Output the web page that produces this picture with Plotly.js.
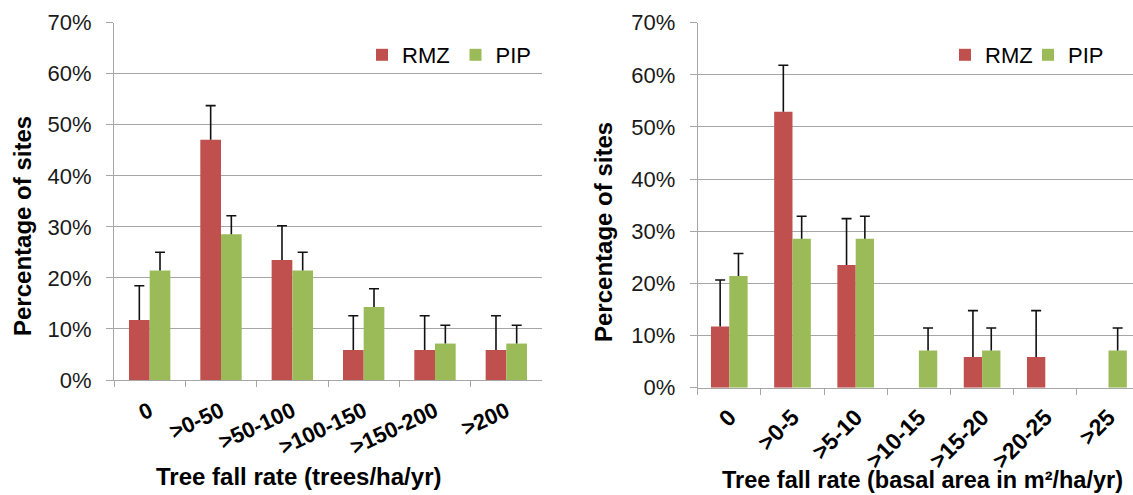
<!DOCTYPE html>
<html>
<head>
<meta charset="utf-8">
<script src="https://cdn.plot.ly/plotly-3.0.1.min.js"></script>
<style>
html, body { margin: 0; padding: 0; background: #ffffff; }
#chart { width: 1133px; height: 495px; }
</style>
</head>
<body>
<div id="chart"></div>
<script>
// ---- Data: tree fall rate (trees/ha/yr) ----
const treeCats = ['0', '>0-50', '>50-100', '>100-150', '>150-200', '>200'];
const treeRMZ = [11.76, 47.06, 23.53, 5.88, 5.88, 5.88];
const treeRMZErr = [6.7, 6.7, 6.7, 6.7, 6.7, 6.7];
const treePIP = [21.43, 28.57, 21.43, 14.29, 7.14, 7.14];
const treePIPErr = [3.6, 3.6, 3.6, 3.6, 3.6, 3.6];

// ---- Data: tree fall rate (basal area in m2/ha/yr) ----
const baCats = ['0', '>0-5', '>5-10', '>10-15', '>15-20', '>20-25', '>25'];
const baRMZ = [11.76, 52.94, 23.53, 0, 5.88, 5.88, 0];
const baRMZErr = [8.9, 8.9, 8.9, null, 8.9, 8.9, null];
const baPIP = [21.43, 28.57, 28.57, 7.14, 7.14, 0, 7.14];
const baPIPErr = [4.3, 4.3, 4.3, 4.3, 4.3, null, 4.3];

const seriesNames = ['RMZ', 'PIP'];
const yTickVals = [0, 10, 20, 30, 40, 50, 60, 70];
const yTickText = yTickVals.map(v => v + '%');

// ---- Styling ----
const RED = '#C0504D';
const GREEN = '#9BBB59';
const GRID = '#A6A6A6';
const FONT = 'Arial, "Liberation Sans", sans-serif';
const W = 1133, H = 495;

function errSpec(arr) {
  // plus-direction error bars only; no bar where the value is missing
  return {
    type: 'data', symmetric: false,
    array: arr.map(v => (v === null ? NaN : v)),
    arrayminus: arr.map(v => (v === null ? NaN : 0)),
    color: '#111111', thickness: 1.6, width: 5
  };
}

const traces = [
  { type: 'bar', name: seriesNames[0], x: treeCats, y: treeRMZ, xaxis: 'x', yaxis: 'y',
    marker: { color: RED }, error_y: errSpec(treeRMZErr), legend: 'legend' },
  { type: 'bar', name: seriesNames[1], x: treeCats, y: treePIP, xaxis: 'x', yaxis: 'y',
    marker: { color: GREEN }, error_y: errSpec(treePIPErr), legend: 'legend' },
  { type: 'bar', name: seriesNames[0], x: baCats, y: baRMZ, xaxis: 'x2', yaxis: 'y2',
    marker: { color: RED }, error_y: errSpec(baRMZErr), legend: 'legend2' },
  { type: 'bar', name: seriesNames[1], x: baCats, y: baPIP, xaxis: 'x2', yaxis: 'y2',
    marker: { color: GREEN }, error_y: errSpec(baPIPErr), legend: 'legend2' }
];

function xAxis(domain, range, angle, anchor, fsize, standoff) {
  return {
    type: 'category', domain: domain, range: range, anchor: anchor,
    showline: true, linecolor: GRID, linewidth: 1,
    ticks: 'outside', tickson: 'boundaries', ticklen: 6, tickcolor: GRID, tickwidth: 1,
    showgrid: false, zeroline: false, tickangle: angle,
    tickfont: { family: FONT, size: fsize, color: '#000', weight: 'bold' },
    ticklabelstandoff: standoff,
    fixedrange: true
  };
}
function yAxis(domain, anchor) {
  return {
    domain: domain, range: [0, 70], anchor: anchor,
    tickvals: yTickVals, ticktext: yTickText,
    showline: true, linecolor: GRID, linewidth: 1,
    ticks: 'outside', ticklen: 7, tickcolor: GRID, tickwidth: 1,
    showgrid: true, gridcolor: GRID, gridwidth: 1, zeroline: false,
    tickfont: { family: FONT, size: 22, color: '#1a1a1a' },
    ticklabelstandoff: 10,
    fixedrange: true
  };
}

const leftX = [114 / W, 542 / W];
const rightX = [697.7 / W, 1];
const rightRange = [-0.5, -0.5 + (W - 697.7) / 63.2];

const titleFont = { family: FONT, size: 24, color: '#000', weight: 'bold' };

const layout = {
  width: W, height: H,
  margin: { l: 0, r: 0, t: 0, b: 0 },
  paper_bgcolor: '#ffffff', plot_bgcolor: '#ffffff',
  font: { family: FONT, color: '#000' },
  barmode: 'group',
  bargap: 0.42,
  xaxis: xAxis(leftX, [-0.5, 5.5], -25, 'y', 22, 9),
  yaxis: yAxis([1 - 380 / H, 1 - 22.7 / H], 'x'),
  xaxis2: xAxis(rightX, rightRange, -45, 'y2', 23, 6),
  yaxis2: yAxis([1 - 387.7 / H, 1 - 22.7 / H], 'x2'),
  legend: {
    orientation: 'h', x: 362 / W, xanchor: 'left', y: 1 - 55 / H, yanchor: 'middle',
    font: { family: FONT, size: 22, color: '#000' },
    entrywidth: 48.5, entrywidthmode: 'pixels', bgcolor: 'rgba(0,0,0,0)', borderwidth: 0
  },
  legend2: {
    orientation: 'h', x: 945 / W, xanchor: 'left', y: 1 - 55 / H, yanchor: 'middle',
    font: { family: FONT, size: 22, color: '#000' },
    entrywidth: 38, entrywidthmode: 'pixels', bgcolor: 'rgba(0,0,0,0)', borderwidth: 0
  },
  annotations: [
    { text: 'Tree fall rate (trees/ha/yr)', xref: 'paper', yref: 'paper',
      x: 298 / W, y: 1 - 476 / H, xanchor: 'center', yanchor: 'middle', showarrow: false,
      font: titleFont },
    { text: 'Tree fall rate (basal area in m²/ha/yr)', xref: 'paper', yref: 'paper',
      x: 922 / W, y: 0.003, xanchor: 'center', yanchor: 'bottom', showarrow: false,
      borderpad: 0, font: { family: FONT, size: 23.5, color: '#000', weight: 'bold' } },
    { text: 'Percentage of sites', xref: 'paper', yref: 'paper', textangle: -90,
      x: 22 / W, y: 1 - 226 / H, xanchor: 'center', yanchor: 'middle', showarrow: false,
      font: titleFont },
    { text: 'Percentage of sites', xref: 'paper', yref: 'paper', textangle: -90,
      x: 603 / W, y: 1 - 232 / H, xanchor: 'center', yanchor: 'middle', showarrow: false,
      font: titleFont }
  ]
};

Plotly.newPlot('chart', traces, layout, { displayModeBar: false, staticPlot: true }).then(gd => {
  // plus-only error bars: drop the lower cap ("shoe") that Plotly draws at the bar top
  gd.querySelectorAll('g.errorbar path').forEach(p => {
    const d = p.getAttribute('d') || '';
    p.setAttribute('d', d.replace(/m-[\d.eE+-]+,0h[\d.eE+-]+$/, ''));
  });
});
</script>
</body>
</html>
